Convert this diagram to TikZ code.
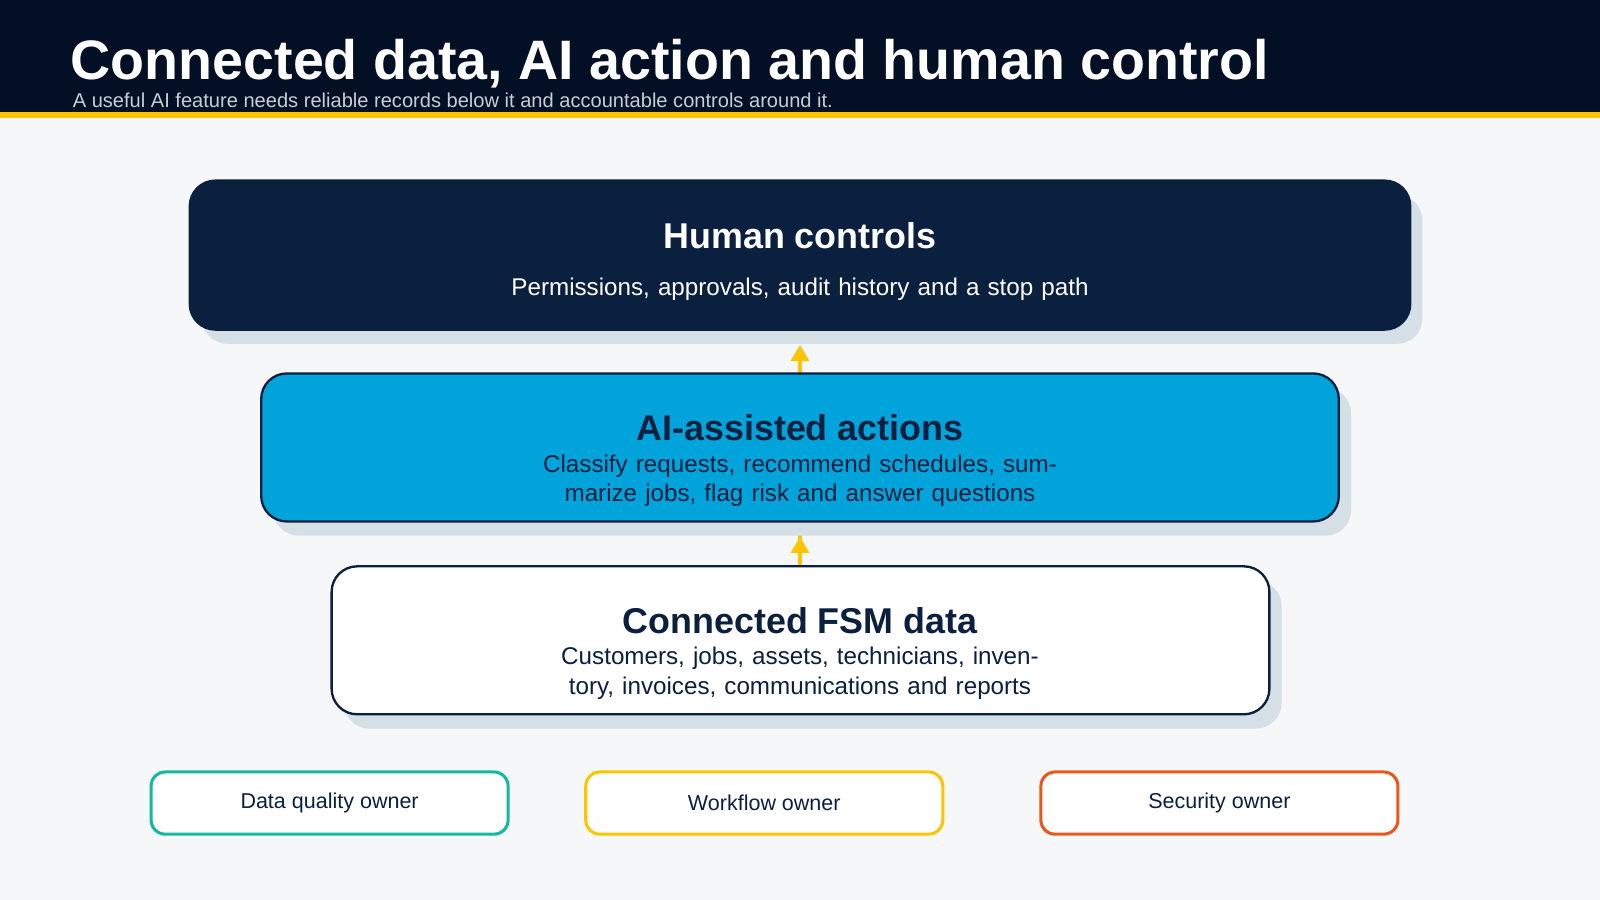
\documentclass[tikz,border=0pt]{standalone}
\usepackage{fontspec}
\setmainfont{Liberation Sans}
\usetikzlibrary{positioning,arrows.meta}
\definecolor{pagebg}{HTML}{F5F7F9}
\definecolor{headbg}{HTML}{020F24}
\definecolor{gold}{HTML}{FFC400}
\definecolor{navy}{HTML}{0B1F3F}
\definecolor{sky}{HTML}{00A3DA}
\definecolor{shade}{HTML}{D5DFE6}
\definecolor{teal}{HTML}{14B8A0}
\definecolor{rust}{HTML}{E8581A}
\definecolor{subgray}{HTML}{C8CED6}
\begin{document}
\begin{tikzpicture}[x=0.02cm,y=-0.02cm,
    layer/.style={rounded corners=0.5cm,line width=1.3pt,draw=navy},
    shadow/.style={rounded corners=0.5cm,fill=shade},
    owner/.style={rounded corners=0.28cm,line width=1.7pt,fill=white,
      minimum width=7cm,minimum height=1.22cm,font=\fontsize{12}{14}\selectfont,text=navy},
    head/.style={font=\bfseries\fontsize{20}{24}\selectfont},
    body/.style={font=\fontsize{13.5}{16.5}\selectfont,align=center,text width=18.5cm},
    lift/.style={-{Triangle[width=10pt,length=9pt]},gold,line width=2pt,shorten >=0.3cm}]
  \useasboundingbox (0,0) rectangle (1568,882);
  \fill[pagebg] (0,0) rectangle (1568,882);
  % header
  \fill[headbg] (0,0) rectangle (1568,110);
  \fill[gold] (0,110) rectangle (1568,116);
  \node[anchor=base west,text=white,font=\bfseries\fontsize{31}{36}\selectfont,inner sep=0] (title) at (69,78) {Connected data, AI action and human control};
  \node[anchor=base west,text=subgray,font=\fontsize{11.2}{13}\selectfont,inner sep=0] (subtitle) at (71,105) {A useful AI feature needs reliable records below it and accountable controls around it.};
  % arrows
  \draw[lift] (784,600) -- (784,323);
  \draw[lift] (784,700) -- (784,511);
  % layers
  \fill[shadow] (198,191) rectangle (1394,337);
  \fill[shadow] (268,380) rectangle (1324,525);
  \fill[shadow] (337,569) rectangle (1256,714);
  \draw[layer,fill=navy] (186,177) rectangle (1382,323);
  \draw[layer,fill=sky] (256,366) rectangle (1312,511);
  \draw[layer,fill=white] (325,555) rectangle (1244,700);
  \node[head,text=white] (humanT) at (784,231) {Human controls};
  \node[body,text=white] (humanB) at (784,283) {Permissions, approvals, audit history and a stop path};
  \node[head,text=navy] (aiT) at (784,419) {AI-assisted actions};
  \node[body,text=navy] (aiB) at (784,471) {Classify requests, recommend schedules, summarize jobs, flag risk and answer questions};
  \node[head,text=navy] (dataT) at (784,608) {Connected FSM data};
  \node[body,text=navy,text width=13.5cm] (dataB) at (784,660) {Customers, jobs, assets, technicians, inventory, invoices, communications and reports};
  % owners
  \node[owner,draw=teal] (quality) at (323,787) {Data quality owner};
  \node[owner,draw=gold] (workflow) at (749,787) {Workflow owner};
  \node[owner,draw=rust] (security) at (1195,787) {Security owner};
\end{tikzpicture}
\end{document}
